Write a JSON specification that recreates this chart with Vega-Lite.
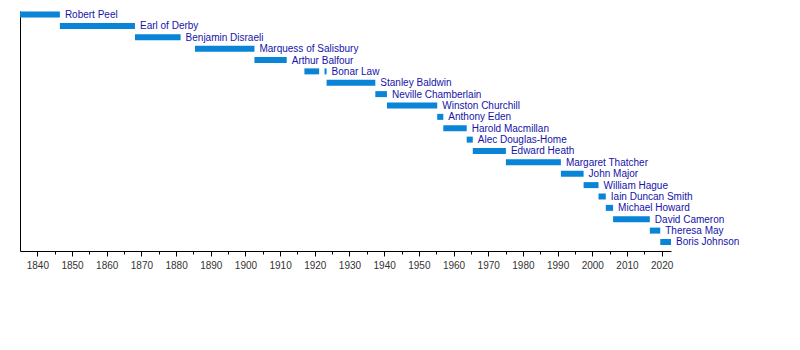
{
  "$schema": "https://vega.github.io/schema/vega-lite/v6.json",
  "width": 651,
  "height": 240,
  "padding": {"left": 20, "top": 10, "right": 5, "bottom": 5},
  "background": "white",
  "config": {"view": {"stroke": null}, "axis": {"labelOverlap": false}},
  "data": {"values": [
    {"leader": "Robert Peel", "start": 1835, "end": 1846.5},
    {"leader": "Earl of Derby", "start": 1846.5, "end": 1868.15},
    {"leader": "Benjamin Disraeli", "start": 1868.15, "end": 1881.3},
    {"leader": "Marquess of Salisbury", "start": 1885.45, "end": 1902.6},
    {"leader": "Arthur Balfour", "start": 1902.6, "end": 1911.9},
    {"leader": "Bonar Law", "start": 1917.0, "end": 1921.25},
    {"leader": "Bonar Law", "start": 1922.8, "end": 1923.4},
    {"leader": "Stanley Baldwin", "start": 1923.4, "end": 1937.45},
    {"leader": "Neville Chamberlain", "start": 1937.45, "end": 1940.8},
    {"leader": "Winston Churchill", "start": 1940.8, "end": 1955.3},
    {"leader": "Anthony  Eden", "start": 1955.3, "end": 1957.05},
    {"leader": "Harold Macmillan", "start": 1957.05, "end": 1963.8},
    {"leader": "Alec Douglas-Home", "start": 1963.8, "end": 1965.55},
    {"leader": "Edward Heath", "start": 1965.55, "end": 1975.1},
    {"leader": "Margaret Thatcher", "start": 1975.1, "end": 1990.95},
    {"leader": "John Major", "start": 1990.95, "end": 1997.5},
    {"leader": "William Hague", "start": 1997.5, "end": 2001.8},
    {"leader": "Iain Duncan Smith", "start": 2001.8, "end": 2003.9},
    {"leader": "Michael Howard", "start": 2003.9, "end": 2006.0},
    {"leader": "David Cameron", "start": 2006.0, "end": 2016.6},
    {"leader": "Theresa May", "start": 2016.6, "end": 2019.6},
    {"leader": "Boris Johnson", "start": 2019.6, "end": 2022.7}
  ]},
  "encoding": {
    "y": {
      "field": "leader",
      "type": "ordinal",
      "scale": {
        "type": "point",
        "domain": ["Robert Peel", "Earl of Derby", "Benjamin Disraeli", "Marquess of Salisbury", "Arthur Balfour", "Bonar Law", "Stanley Baldwin", "Neville Chamberlain", "Winston Churchill", "Anthony  Eden", "Harold Macmillan", "Alec Douglas-Home", "Edward Heath", "Margaret Thatcher", "John Major", "William Hague", "Iain Duncan Smith", "Michael Howard", "David Cameron", "Theresa May", "Boris Johnson"],
        "padding": 0.55,
        "align": 0.28
      },
      "axis": {"title": null, "labels": false, "ticks": false, "domainColor": "black", "domainWidth": 1, "grid": false}
    },
    "x": {
      "field": "start",
      "type": "quantitative",
      "scale": {"domain": [1835, 2022.7], "nice": false, "zero": false},
      "axis": {
        "title": null,
        "grid": false,
        "values": [1840, 1845, 1850, 1855, 1860, 1865, 1870, 1875, 1880, 1885, 1890, 1895, 1900, 1905, 1910, 1915, 1920, 1925, 1930, 1935, 1940, 1945, 1950, 1955, 1960, 1965, 1970, 1975, 1980, 1985, 1990, 1995, 2000, 2005, 2010, 2015, 2020],
        "labelExpr": "datum.value % 10 === 0 ? format(datum.value, 'd') : ''",
        "tickSize": {"condition": {"test": "datum.value % 10 === 0", "value": 5}, "value": 3},
        "tickColor": "black",
        "domainColor": "black",
        "labelFont": "Liberation Sans",
        "labelFontSize": 10,
        "labelColor": "#333333",
        "labelPadding": 4,
        "labelFlush": false,
        "labelOverlap": false,
        "labelSeparation": 0
      }
    }
  },
  "layer": [
    {
      "mark": {"type": "bar", "height": 6, "color": "#0a84d6"},
      "encoding": {
        "x2": {"field": "end"}
      }
    },
    {
      "mark": {"type": "text", "align": "left", "baseline": "middle", "dx": 5, "dy": 0.5, "font": "Liberation Sans", "fontSize": 10, "color": "#1414a8"},
      "encoding": {
        "x": {"aggregate": "max", "field": "end", "type": "quantitative"},
        "text": {"field": "leader"}
      }
    }
  ]
}
